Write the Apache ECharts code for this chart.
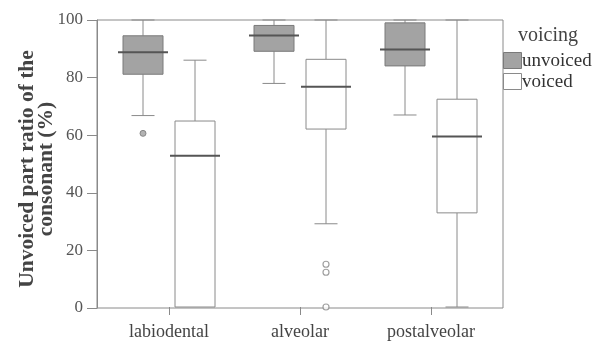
<!DOCTYPE html>
<html>
<head>
<meta charset="utf-8">
<script src="https://cdn.jsdelivr.net/npm/echarts@6/dist/echarts.min.js"></script>
<style>html,body{margin:0;padding:0;background:#fff;}#c{width:593px;height:341px;}</style>
</head>
<body>
<div id="c"></div>
<script>
// ---- data ----
var categories = ['labiodental', 'alveolar', 'postalveolar'];
var yTicks = [0, 20, 40, 60, 80, 100];
// [min, q1, median, q3, max]
var unvoicedBoxes = [
  [66.7, 81.1, 88.8, 94.5, 100],
  [77.9, 89.1, 94.6, 98.1, 100],
  [66.9, 84.0, 89.7, 99.0, 100]
];
var voicedBoxes = [
  [0, 0, 52.7, 64.8, 86.0],
  [29.0, 62.0, 76.7, 86.3, 100],
  [0, 32.8, 59.4, 72.4, 100]
];
var unvoicedOutliers = [[0, 60.5]];
var voicedOutliers = [[1, 14.9], [1, 12.1], [1, 0]];
var legendNames = ['unvoiced', 'voiced'];
var legendTitle = 'voicing';

// ---- styles ----
var FONT = 'Liberation Serif, Times New Roman, serif';
var AX = '#8a8a8a';
var UFILL = '#a3a3a3', USTROKE = '#7a7a7a', VFILL = '#ffffff', VSTROKE = '#8a8a8a';
var OFF = 26, BOXW = 40, MEDW = 50, CAPW = 23;

function toData(boxes) {
  return boxes.map(function (b, i) { return [i].concat(b); });
}

function makeRender(offset, fill, stroke) {
  return function (params, api) {
    var x = api.value(0);
    var pMin = api.coord([x, api.value(1)]);
    var pQ1 = api.coord([x, api.value(2)]);
    var pMed = api.coord([x, api.value(3)]);
    var pQ3 = api.coord([x, api.value(4)]);
    var pMax = api.coord([x, api.value(5)]);
    var cx = pMin[0] + offset;
    var ls = { stroke: AX, lineWidth: 1 };
    var children = [];
    if (pMax[1] < pQ3[1]) {
      children.push({ type: 'line', shape: { x1: cx, y1: pQ3[1], x2: cx, y2: pMax[1] }, style: ls });
      children.push({ type: 'line', shape: { x1: cx - CAPW / 2, y1: pMax[1], x2: cx + CAPW / 2, y2: pMax[1] }, style: ls });
    }
    if (pMin[1] > pQ1[1]) {
      children.push({ type: 'line', shape: { x1: cx, y1: pQ1[1], x2: cx, y2: pMin[1] }, style: ls });
      children.push({ type: 'line', shape: { x1: cx - CAPW / 2, y1: pMin[1], x2: cx + CAPW / 2, y2: pMin[1] }, style: ls });
    }
    children.push({ type: 'rect', shape: { x: cx - BOXW / 2, y: pQ3[1], width: BOXW, height: pQ1[1] - pQ3[1] },
      style: { fill: fill, stroke: stroke, lineWidth: 1 } });
    children.push({ type: 'line', shape: { x1: cx - MEDW / 2, y1: pMed[1], x2: cx + MEDW / 2, y2: pMed[1] },
      style: { stroke: '#555', lineWidth: 2 } });
    return { type: 'group', children: children };
  };
}

var chart = echarts.init(document.getElementById('c'), null, { renderer: 'canvas' });
chart.setOption({
  animation: false,
  backgroundColor: '#fff',
  graphic: [
    { type: 'text', left: 518, top: 26, style: { text: legendTitle, font: '20px ' + FONT, fill: '#444' } },
    { type: 'rect', shape: { x: 503.5, y: 52.5, width: 18, height: 16 }, style: { fill: UFILL, stroke: USTROKE, lineWidth: 1 } },
    { type: 'rect', shape: { x: 503.5, y: 73.5, width: 18, height: 16 }, style: { fill: VFILL, stroke: VSTROKE, lineWidth: 1 } },
    { type: 'text', x: 522, y: 61, style: { text: legendNames[0], font: '19px ' + FONT, fill: '#333', verticalAlign: 'middle' } },
    { type: 'text', x: 522, y: 82, style: { text: legendNames[1], font: '19px ' + FONT, fill: '#333', verticalAlign: 'middle' } }
  ],
  grid: [
    { left: 97, right: 90, top: 20, bottom: 33, show: true, borderColor: AX, borderWidth: 1, backgroundColor: 'transparent' },
    { left: 103.5, right: 96.5, top: 20, bottom: 33 }
  ],
  xAxis: [
    { gridIndex: 0, type: 'value', min: 0, max: 1, show: false },
    {
      gridIndex: 1, type: 'category', data: categories,
      axisLine: { show: false },
      axisTick: { show: true, alignWithLabel: true, length: 8, lineStyle: { color: AX } },
      axisLabel: { fontFamily: FONT, fontSize: 18, color: '#444', margin: 16 }
    }
  ],
  yAxis: [
    {
      gridIndex: 0, type: 'value', min: 0, max: 100, interval: 20,
      axisLine: { show: true, lineStyle: { color: AX } },
      axisTick: { show: true, length: 10, lineStyle: { color: AX } },
      axisLabel: { fontFamily: FONT, fontSize: 17, color: '#555', margin: 14,
        formatter: function (v) { return yTicks.indexOf(v) >= 0 ? String(v) : ''; } },
      splitLine: { show: false },
      name: 'Unvoiced part ratio of the\nconsonant (%)',
      nameLocation: 'middle', nameGap: 41, nameMoveOverlap: false,
      nameTextStyle: { fontFamily: FONT, fontSize: 21.5, fontWeight: 'bold', color: '#444', lineHeight: 19, padding: [0, 10, 0, 0] }
    },
    { gridIndex: 1, type: 'value', min: 0, max: 100, show: false }
  ],
  series: [
    {
      name: 'unvoiced', type: 'custom', xAxisIndex: 1, yAxisIndex: 1,
      itemStyle: { color: UFILL, borderColor: USTROKE },
      renderItem: makeRender(-OFF, UFILL, USTROKE),
      encode: { x: 0, y: [1, 2, 3, 4, 5] },
      data: toData(unvoicedBoxes), z: 3
    },
    {
      name: 'voiced', type: 'custom', xAxisIndex: 1, yAxisIndex: 1,
      itemStyle: { color: VFILL, borderColor: VSTROKE },
      renderItem: makeRender(OFF, VFILL, VSTROKE),
      encode: { x: 0, y: [1, 2, 3, 4, 5] },
      data: toData(voicedBoxes), z: 3
    },
    {
      name: 'unvoiced outliers', type: 'scatter', xAxisIndex: 1, yAxisIndex: 1,
      symbol: 'circle', symbolSize: 6, symbolOffset: [-OFF, 0],
      itemStyle: { color: '#a0a0a0', borderColor: '#777', borderWidth: 1 },
      data: unvoicedOutliers, z: 4
    },
    {
      name: 'voiced outliers', type: 'scatter', xAxisIndex: 1, yAxisIndex: 1,
      symbol: 'circle', symbolSize: 6, symbolOffset: [OFF, 0],
      itemStyle: { color: '#fff', borderColor: '#888', borderWidth: 1.2 },
      data: voicedOutliers, z: 4
    }
  ]
});
</script>
</body>
</html>
